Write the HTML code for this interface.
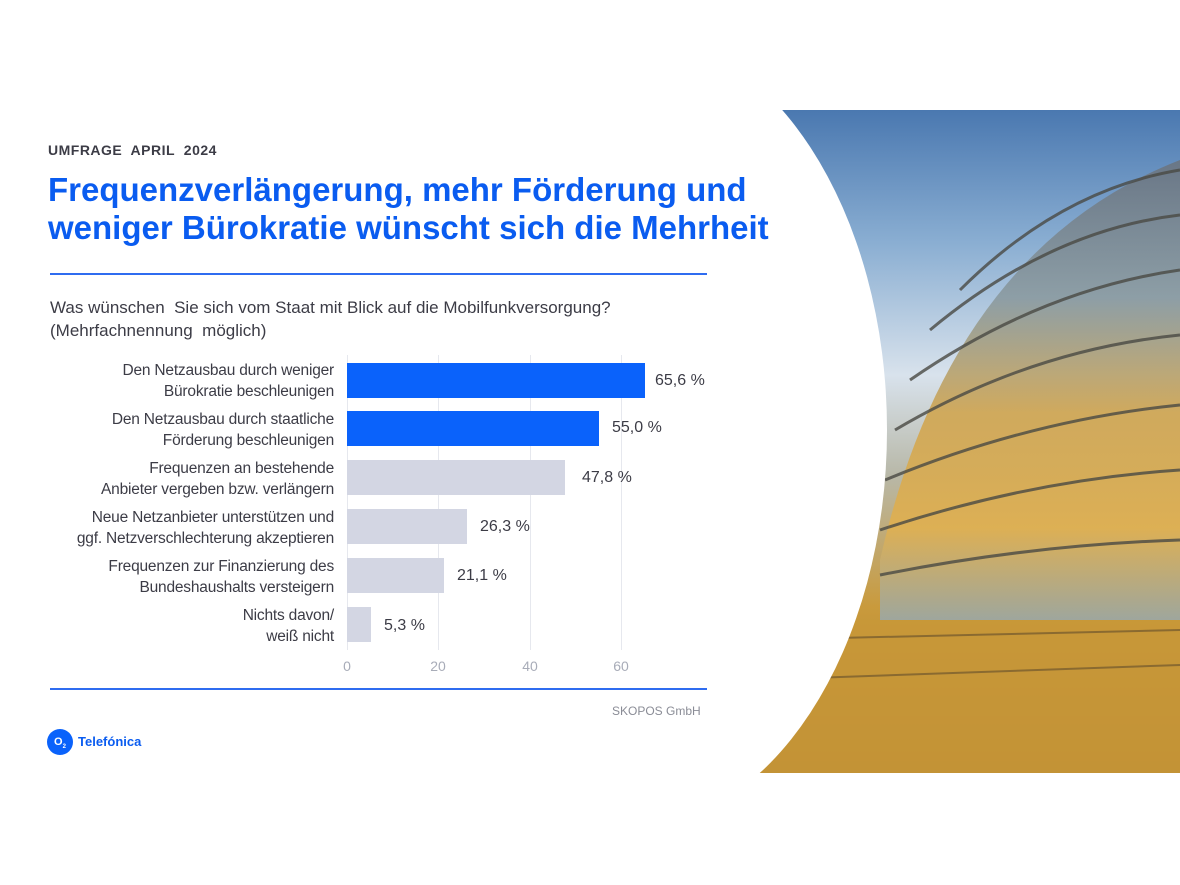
<!DOCTYPE html>
<html><head><meta charset="utf-8"><style>
body{margin:0;width:1180px;height:885px;background:#fff;position:relative;overflow:hidden;font-family:"Liberation Sans",Arial,sans-serif}
.a{position:absolute}
.lab{position:absolute;right:846px;text-align:right;font-size:15.5px;color:#3c3c46;line-height:21px;white-space:nowrap;letter-spacing:-0.2px}
.bar{position:absolute;left:347px;height:35px}
.val{position:absolute;font-size:16px;color:#3c3c46}
.tk{position:absolute;top:658px;font-size:14px;color:#a8acb8;width:30px;text-align:center}
.g{position:absolute;top:355px;height:295px;width:1px;background:#e6e8ee}
</style></head><body>
<svg class="a" style="left:0;top:0" width="1180" height="885">
<defs>
<linearGradient id="sky" x1="0" y1="0" x2="0" y2="1">
<stop offset="0" stop-color="#4a78b0"/><stop offset="0.2" stop-color="#8aaed2"/><stop offset="0.4" stop-color="#d8e2ec"/><stop offset="0.55" stop-color="#b8b8a8"/><stop offset="0.75" stop-color="#c99a3c"/><stop offset="1" stop-color="#a8782a"/>
</linearGradient>
<linearGradient id="dome" x1="0" y1="0" x2="0" y2="1">
<stop offset="0" stop-color="#6a7480"/><stop offset="0.3" stop-color="#8a9aa0"/><stop offset="0.55" stop-color="#d0a550"/><stop offset="0.8" stop-color="#e0b050"/><stop offset="1" stop-color="#9aa8a8"/>
</linearGradient>
</defs>
<rect x="754" y="110" width="426" height="663" fill="url(#sky)"/>
<path d="M880 560 Q950 250 1180 160 L1180 620 L880 620 Z" fill="url(#dome)" opacity="0.9"/>
<g stroke="#4a4a44" stroke-width="3" fill="none" opacity="0.8">
<path d="M960 290 Q1060 190 1180 170"/><path d="M930 330 Q1050 230 1180 215"/><path d="M910 380 Q1040 290 1180 270"/><path d="M895 430 Q1030 350 1180 335"/><path d="M885 480 Q1030 420 1180 405"/><path d="M880 530 Q1030 480 1180 470"/><path d="M880 575 Q1030 545 1180 540"/>
</g>
<rect x="754" y="620" width="426" height="153" fill="#c89838" opacity="0.85"/>
<g stroke="#8a6a30" stroke-width="2"><line x1="754" y1="640" x2="1180" y2="630"/><line x1="754" y1="680" x2="1180" y2="665"/></g>
<ellipse cx="625" cy="430" rx="262" ry="400" fill="#fff"/>
<rect x="0" y="0" width="754" height="885" fill="#fff"/>
<rect x="0" y="773" width="1180" height="112" fill="#fff"/>
<rect x="0" y="0" width="1180" height="110" fill="#fff"/>
</svg>
<div class="a" style="left:48px;top:142px;font-size:14px;font-weight:bold;color:#3c3c46;letter-spacing:0.5px">UMFRAGE&nbsp; APRIL&nbsp; 2024</div>
<div class="a" style="left:48px;top:171px;font-size:33px;font-weight:bold;color:#0a5cf0;line-height:38px;white-space:nowrap">Frequenzverlängerung, mehr Förderung und<br>weniger Bürokratie wünscht sich die Mehrheit</div>
<div class="a" style="left:50px;top:273px;width:657px;height:2px;background:#2f6cf0"></div>
<div class="a" style="left:50px;top:296px;font-size:17px;color:#3c3c46;line-height:23px">Was wünschen&nbsp; Sie sich vom Staat mit Blick auf die Mobilfunkversorgung?<br>(Mehrfachnennung&nbsp; möglich)</div>
<div class="g" style="left:347px"></div><div class="g" style="left:438px"></div><div class="g" style="left:530px"></div><div class="g" style="left:621px"></div>
<div class="lab" style="top:360px">Den Netzausbau durch weniger<br>Bürokratie beschleunigen</div>
<div class="lab" style="top:409px">Den Netzausbau durch staatliche<br>Förderung beschleunigen</div>
<div class="lab" style="top:458px">Frequenzen an bestehende<br>Anbieter vergeben bzw. verlängern</div>
<div class="lab" style="top:507px">Neue Netzanbieter unterstützen und<br>ggf. Netzverschlechterung akzeptieren</div>
<div class="lab" style="top:556px">Frequenzen zur Finanzierung des<br>Bundeshaushalts versteigern</div>
<div class="lab" style="top:605px">Nichts davon/<br>weiß nicht</div>
<div class="bar" style="top:363px;width:298px;background:#0a62fb"></div>
<div class="bar" style="top:411px;width:252px;background:#0a62fb"></div>
<div class="bar" style="top:460px;width:218px;background:#d3d6e3"></div>
<div class="bar" style="top:509px;width:120px;background:#d3d6e3"></div>
<div class="bar" style="top:558px;width:97px;background:#d3d6e3"></div>
<div class="bar" style="top:607px;width:24px;background:#d3d6e3"></div>
<div class="val" style="left:655px;top:372px">65,6 %</div>
<div class="val" style="left:612px;top:419px">55,0 %</div>
<div class="val" style="left:582px;top:469px">47,8 %</div>
<div class="val" style="left:480px;top:518px">26,3 %</div>
<div class="val" style="left:457px;top:567px">21,1 %</div>
<div class="val" style="left:384px;top:617px">5,3 %</div>
<div class="tk" style="left:332px">0</div><div class="tk" style="left:423px">20</div><div class="tk" style="left:515px">40</div><div class="tk" style="left:606px">60</div>
<div class="a" style="left:50px;top:688px;width:657px;height:2px;background:#2f6cf0"></div>
<div class="a" style="left:612px;top:704px;font-size:12px;color:#8a8c96">SKOPOS GmbH</div>
<div class="a" style="left:47px;top:729px;width:26px;height:26px;border-radius:50%;background:#0a62fb;color:#fff;font-size:11px;font-weight:bold;line-height:26px;text-align:center">O<sub style="font-size:6px">2</sub></div>
<div class="a" style="left:78px;top:734px;font-size:13px;font-weight:bold;color:#0a5cf0">Telefónica</div>
</body></html>
